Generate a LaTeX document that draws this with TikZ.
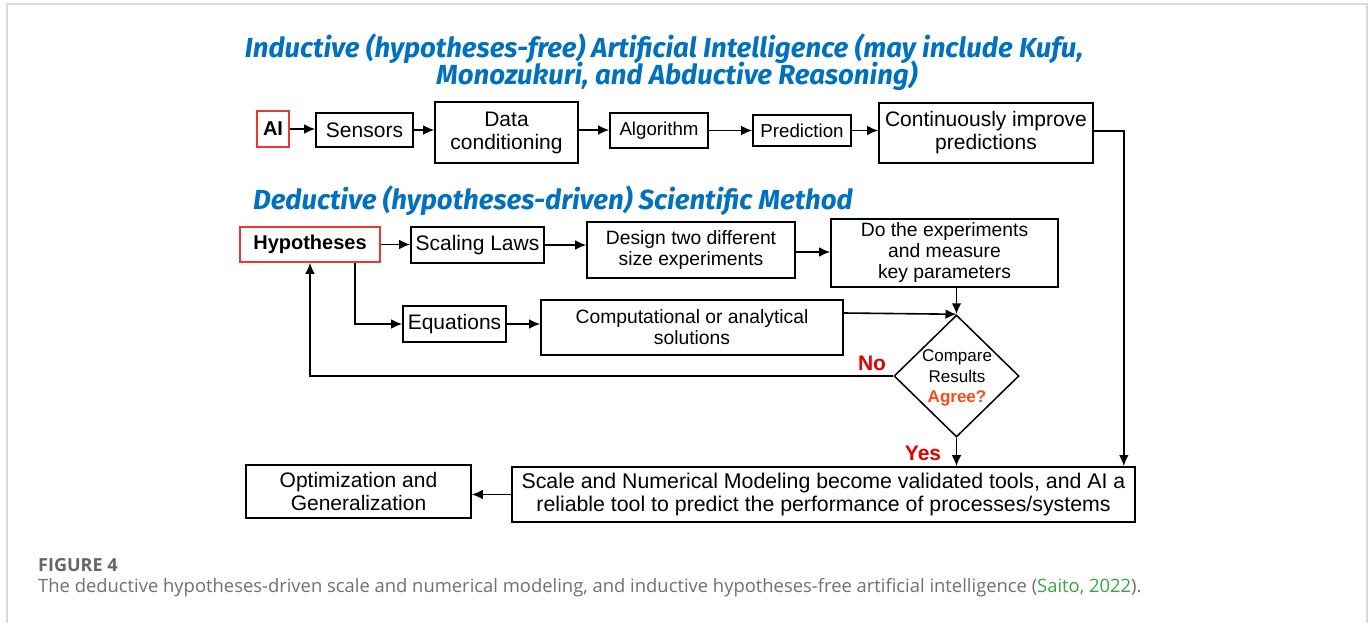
\documentclass[tikz,border=0pt]{standalone}
\usepackage{fontspec}
\setmainfont{Liberation Sans}
\newfontfamily\headfont{Fira Sans}
\newfontfamily\capfont{Open Sans}
\usetikzlibrary{arrows.meta,shapes.geometric}
\definecolor{headblue}{RGB}{0,112,192}
\definecolor{boxred}{RGB}{232,56,47}
\definecolor{labred}{RGB}{230,0,0}
\definecolor{agreeorange}{RGB}{250,75,25}
\definecolor{framegray}{RGB}{218,218,218}
\definecolor{capgray}{RGB}{112,112,112}
\definecolor{citegreen}{RGB}{60,165,66}
\tikzset{
  box/.style={draw=black, line width=1.6pt, inner sep=0pt, align=center, font=\fontsize{21}{23}\selectfont},
  redbox/.style={box, draw=boxred, font=\fontsize{20}{22}\selectfont\bfseries},
  smalltext/.style={font=\fontsize{19.3}{21}\selectfont},
  arr/.style={line width=1.6pt, -{Latex[length=11pt,width=9.5pt]}},
  head/.style={text=headblue, inner sep=0pt, anchor=base, font=\headfont\fontsize{27.6}{30}\selectfont\bfseries\itshape},
  flag/.style={text=labred, inner sep=0pt, font=\fontsize{21}{23}\selectfont\bfseries}
}
\begin{document}
\begin{tikzpicture}[x=1pt,y=-1pt]
\useasboundingbox (0,0) rectangle (1370,623);
\fill[white] (0,0) rectangle (1370,623);
% outer frame of the figure panel
\draw[framegray, line width=2pt] (7,623) -- (7,4) -- (1367,4) -- (1367,623);

% headings
\node[head] (h1) at (664,58) {Inductive (hypotheses-free) Artificial Intelligence (may include Kufu,};
\node[head] (h2) at (677,85) {Monozukuri, and Abductive Reasoning)};
\node[head] (h3) at (553,209) {Deductive (hypotheses-driven) Scientific Method};

% inductive chain
\node[redbox, minimum width=32, minimum height=36] (ai) at (273,129) {AI};
\node[box, minimum width=97, minimum height=34] (sensors) at (364.5,130) {Sensors};
\node[box, minimum width=143, minimum height=61] (data) at (506.5,132.5) {Data\\conditioning};
\node[box, minimum width=98, minimum height=35, font=\fontsize{18.7}{21}\selectfont] (algo) at (659,130.5) {Algorithm};
\node[box, minimum width=98, minimum height=31, font=\fontsize{18.7}{21}\selectfont] (pred) at (802,130.5) {Prediction};
\node[box, minimum width=214, minimum height=60] (cont) at (986,133) {Continuously improve\\predictions};

% deductive chain
\node[redbox, minimum width=140, minimum height=35] (hyp) at (310,244.5) {Hypotheses};
\node[box, minimum width=133, minimum height=36] (scaling) at (477.5,245) {Scaling Laws};
\node[box, smalltext, minimum width=208, minimum height=56] (design) at (691,250) {Design two different\\size experiments};
\node[box, smalltext, minimum width=227, minimum height=68] (doexp) at (944.5,253) {Do the experiments\\and measure\\key parameters};
\node[box, minimum width=103, minimum height=36] (eqn) at (454.5,324) {Equations};
\node[box, smalltext, minimum width=302, minimum height=55] (comp) at (692,327.5) {Computational or analytical\\solutions};

% decision
\node[diamond, draw=black, line width=1.5pt, inner sep=0pt, minimum width=125, minimum height=122] (cmp) at (956.5,376) {};
\node[align=center, inner sep=0pt, font=\fontsize{17}{20.5}\selectfont] (cmptext) at (957,378) {Compare\\Results\\\textcolor{agreeorange}{\bfseries Agree?}};

% results
\node[box, minimum width=623, minimum height=55, font=\fontsize{21.3}{23}\selectfont] (scale) at (823.5,494.5) {Scale and Numerical Modeling become validated tools, and AI a\\reliable tool to predict the performance of processes/systems};
\node[box, minimum width=225, minimum height=53] (opt) at (358.5,491.5) {Optimization and\\Generalization};

\node[flag] (no) at (872,363) {No};
\node[flag] (yes) at (923,453) {Yes};

% connectors: inductive chain
\draw[arr] (ai.east) -- (ai.east -| sensors.west);
\draw[arr] (sensors.east) -- (sensors.east -| data.west);
\draw[arr] ([yshift=2.5pt]data.east) -- ([yshift=2.5pt]data.east -| algo.west);
\draw[arr] (algo.east) -- (algo.east -| pred.west);
\draw[arr] (pred.east) -- (pred.east -| cont.west);
\draw[arr] ([yshift=2pt]cont.east) -| ([xshift=-12pt]scale.north east);

% connectors: deductive chain
\draw[arr] (hyp.east) -- (hyp.east -| scaling.west);
\draw[arr] (scaling.east) -- (scaling.east -| design.west);
\draw[arr] ([yshift=-2pt]design.east) -- ([yshift=-2pt]design.east -| doexp.west);
\draw[arr] ([xshift=45pt]hyp.south) |- (eqn.west);
\draw[arr] (eqn.east) -- (eqn.east -| comp.west);
\draw[arr] ([yshift=14.5pt]comp.east) -- (cmp.north);
\draw[arr] (doexp.south -| cmp.north) -- (cmp.north);
\draw[arr] (cmp.west) -| (hyp.south);
\draw[arr] (cmp.south) -- (cmp.south |- scale.north);
\draw[arr] (scale.west) -- (scale.west -| opt.east);

% caption
\node[anchor=base west, inner sep=0pt, text=capgray!90!black, font=\capfont\fontsize{18}{20}\selectfont\bfseries] (figno) at (38,571) {FIGURE 4};
\node[anchor=base west, inner sep=0pt, text=capgray, font=\capfont\fontsize{18.4}{20}\selectfont] (caption) at (38,592) {The deductive hypotheses-driven scale and numerical modeling, and inductive hypotheses-free artificial intelligence (\textcolor{citegreen}{Saito, 2022}).};
\end{tikzpicture}
\end{document}
